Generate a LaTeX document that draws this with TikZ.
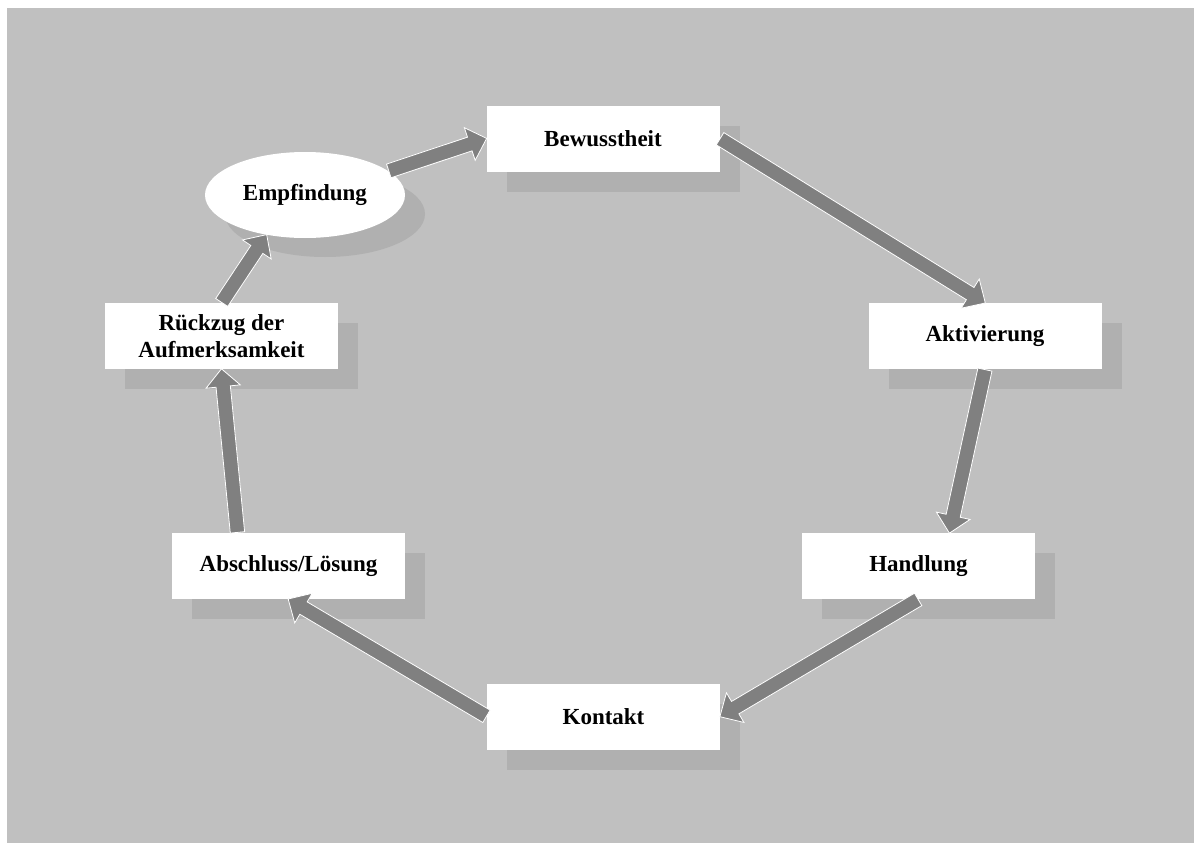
\documentclass[tikz,border=0pt]{standalone}
\usepackage{fontspec}
\setmainfont{Liberation Serif}
\usetikzlibrary{calc,shapes.geometric,shapes.arrows,shadows}
\definecolor{bgc}{HTML}{C0C0C0}
\definecolor{shadowc}{HTML}{B0B0B0}
\definecolor{flowc}{HTML}{808080}

\tikzset{
  stage/.style={rectangle, fill=white, minimum width=233, minimum height=66,
    inner sep=2pt, align=center, font=\fontsize{23}{27}\selectfont\bfseries,
    drop shadow={shadow xshift=20pt, shadow yshift=-20pt, fill=shadowc, opacity=1}},
  oval/.style={ellipse, fill=white, minimum width=200, minimum height=86,
    inner sep=0pt, font=\fontsize{23}{27}\selectfont\bfseries,
    drop shadow={shadow xshift=20pt, shadow yshift=-19pt, fill=shadowc, opacity=1}},
  flow/.style={single arrow, fill=flowc, draw=white, line width=0.8pt,
    inner sep=6.8pt, single arrow head extend=10pt, single arrow tip angle=88}
}

% block arrow from #1 to #2
\newcommand\flowarrow[2]{%
  \path let \p1=(#1), \p2=(#2),
    \n1={veclen(\x2-\x1,\y2-\y1)}, \n2={atan2(\y2-\y1,\x2-\x1)} in
    node[flow, minimum height=\n1, rotate=\n2, anchor=tail] at (\p1) {};}

\begin{document}
\begin{tikzpicture}[x=1pt, y=-1pt]
  \useasboundingbox (0,0) rectangle (1194,843);
  \fill[bgc] (7,8) rectangle (1194,843);

  \node[oval]  (emp) at (305,195)   {Empfindung};
  \node[stage] (bew) at (603,138.5) {Bewusstheit};
  \node[stage] (akt) at (985,336)   {Aktivierung};
  \node[stage] (han) at (918.5,566) {Handlung};
  \node[stage] (kon) at (603.5,716.5) {Kontakt};
  \node[stage] (abs) at (288.5,566) {Abschluss/Lösung};
  \node[stage] (ruc) at (221.5,336) {Rückzug der\\Aufmerksamkeit};

  \flowarrow{emp.16}{bew.west}
  \flowarrow{bew.east}{akt.north}
  \flowarrow{akt.south}{$(han.north)+(31,0)$}
  \flowarrow{han.south}{kon.east}
  \flowarrow{kon.west}{abs.south}
  \flowarrow{$(abs.north)+(-51,0)$}{ruc.south}
  \flowarrow{ruc.north}{emp.226}
\end{tikzpicture}
\end{document}
